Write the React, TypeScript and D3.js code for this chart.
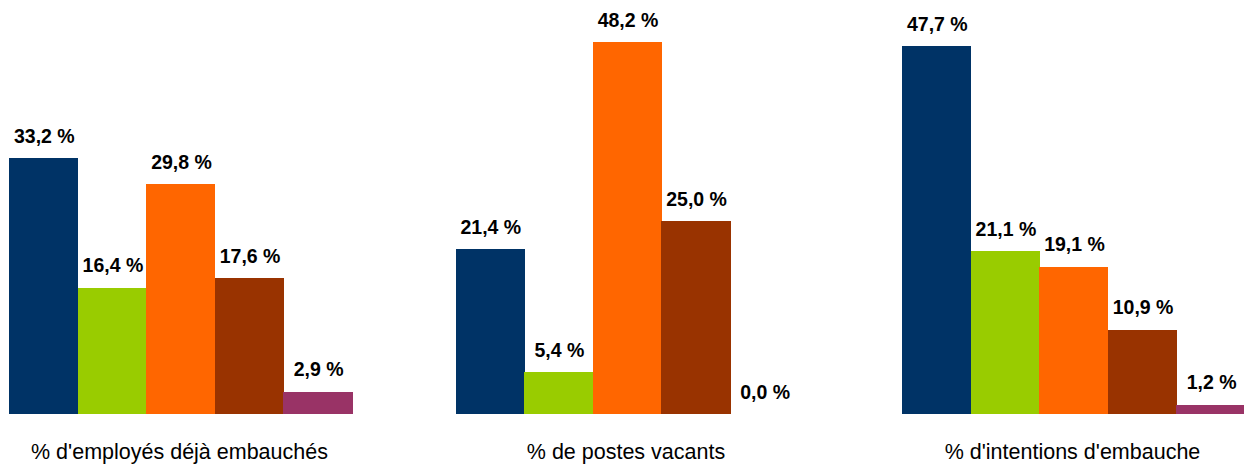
import React from "react";
import * as d3 from "d3";

const groups = ["% d'employés déjà embauchés", "% de postes vacants", "% d'intentions d'embauche"];
const seriesKeys = ["s1", "s2", "s3", "s4", "s5"];
const seriesColors = ["#003366", "#99CC00", "#FF6600", "#993300", "#993366"];
const values1 = [33.2, 16.4, 29.8, 17.6, 2.9];
const values2 = [21.4, 5.4, 48.2, 25.0, 0.0];
const values3 = [47.7, 21.1, 19.1, 10.9, 1.2];
const groupValues = [values1, values2, values3];

const W = 1244;
const H = 464;

export default function App() {
  const x0 = d3.scaleBand<string>().domain(groups).range([9, 1245]).paddingInner(103.5 / 446.5).paddingOuter(0);
  const x1 = d3.scaleBand<string>().domain(seriesKeys).range([0, x0.bandwidth()]).padding(0);
  const y = d3.scaleLinear().domain([0, 53.7]).range([414, 0]);
  const fmt = (v: number) => v.toFixed(1).replace(".", ",") + " %";

  return (
    <svg width={W} height={H} style={{ position: "absolute", left: 0, top: 0, background: "#fff" }}>
      <rect x={0} y={0} width={W} height={H} fill="#fff" />
      {groups.map((g, gi) => (
        <g key={g} transform={`translate(${x0(g)},0)`}>
          {seriesKeys.map((k, si) => {
            const v = groupValues[gi][si];
            const bx = x1(k)!;
            return (
              <g key={k}>
                {v > 0 && (
                  <rect
                    x={bx}
                    y={y(v)}
                    width={x1.bandwidth() + 0.6}
                    height={y(0) - y(v)}
                    fill={seriesColors[si]}
                    shapeRendering="crispEdges"
                  />
                )}
                <text
                  x={bx + x1.bandwidth() / 2 + 1}
                  y={y(v) - 15.5}
                  textAnchor="middle"
                  fontFamily="Liberation Sans, Arial, sans-serif"
                  fontWeight="bold"
                  fontSize={19.5}
                  fill="#000"
                >
                  {fmt(v)}
                </text>
              </g>
            );
          })}
          <text
            x={x0.bandwidth() / 2 - 1}
            y={459}
            textAnchor="middle"
            fontFamily="Liberation Sans, Arial, sans-serif"
            fontSize={21.5}
            fill="#000"
          >
            {g}
          </text>
        </g>
      ))}
    </svg>
  );
}
